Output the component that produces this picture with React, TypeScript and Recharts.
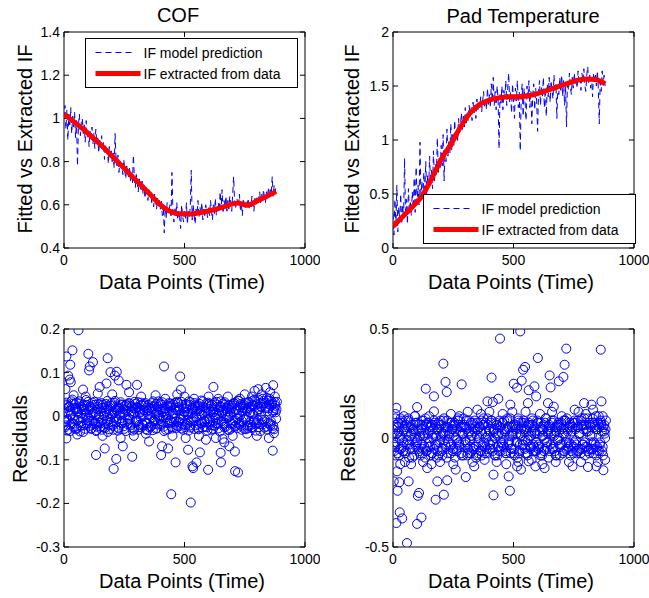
import React from 'react';
import {
    ComposedChart,
    ScatterChart,
    Line,
    Scatter,
    XAxis,
    YAxis,
    ReferenceArea,
    ReferenceLine,
} from 'recharts';

// fitted IF (blue dashed), one value every 4 data points, 0..880
const cofFitted = [
    1.0, 1.06, 0.95, 1.04, 0.9, 1.02, 0.97, 1.05, 0.93, 1.01,
    0.96, 1.03, 0.91, 0.99, 0.78, 0.97, 1.02, 0.92, 0.98, 1.0,
    0.93, 0.97, 0.89, 0.99, 0.91, 0.95, 0.87, 0.94, 0.9, 0.96,
    0.88, 0.93, 0.86, 0.95, 0.89, 0.91, 0.84, 0.9, 0.86, 0.92,
    0.85, 0.89, 0.81, 0.88, 0.84, 0.86, 0.79, 0.87, 0.82, 0.85,
    0.8, 0.84, 0.77, 0.93, 0.81, 0.78, 0.83, 0.75, 0.8, 0.77,
    0.79, 0.74, 0.81, 0.76, 0.72, 0.78, 0.75, 0.73, 0.77, 0.71,
    0.74, 0.7, 0.83, 0.72, 0.68, 0.74, 0.7, 0.66, 0.72, 0.69,
    0.67, 0.71, 0.65, 0.69, 0.63, 0.68, 0.66, 0.62, 0.67, 0.64,
    0.66, 0.61, 0.64, 0.59, 0.65, 0.62, 0.58, 0.63, 0.6, 0.62,
    0.58, 0.62, 0.55, 0.6, 0.47, 0.59, 0.54, 0.61, 0.56, 0.58,
    0.6, 0.54, 0.75, 0.57, 0.52, 0.59, 0.55, 0.61, 0.53, 0.57,
    0.54, 0.49, 0.6, 0.55, 0.52, 0.58, 0.53, 0.61, 0.51, 0.57,
    0.54, 0.59, 0.76, 0.53, 0.6, 0.55, 0.51, 0.58, 0.56, 0.62,
    0.54, 0.59, 0.56, 0.61, 0.53, 0.58, 0.55, 0.6, 0.57, 0.54,
    0.59, 0.55, 0.62, 0.57, 0.53, 0.6, 0.56, 0.63, 0.55, 0.59,
    0.61, 0.57, 0.66, 0.58, 0.67, 0.56, 0.62, 0.59, 0.64, 0.57,
    0.62, 0.58, 0.64, 0.6, 0.57, 0.65, 0.73, 0.61, 0.58, 0.63,
    0.62, 0.59, 0.65, 0.57, 0.61, 0.55, 0.63, 0.6, 0.58, 0.62,
    0.6, 0.63, 0.58, 0.62, 0.59, 0.64, 0.61, 0.57, 0.63, 0.6,
    0.64, 0.6, 0.63, 0.66, 0.61, 0.65, 0.62, 0.67, 0.63, 0.61,
    0.66, 0.63, 0.68, 0.64, 0.67, 0.65, 0.73, 0.64, 0.69, 0.66,
    0.69,
];

const padFitted = [
    0.32, 0.12, 0.45, 0.2, 0.58, 0.15, 0.38, 0.25, 0.5, 0.22,
    0.4, 0.28, 0.83, 0.3, 0.45, 0.22, 0.55, 0.35, 0.42, 0.3,
    0.52, 0.36, 0.65, 0.33, 0.75, 0.42, 0.58, 0.4, 0.98, 0.45,
    0.62, 0.44, 0.7, 0.5, 0.8, 0.48, 0.68, 0.56, 0.85, 0.58,
    0.72, 0.55, 0.9, 0.62, 0.78, 0.68, 1.02, 0.7, 0.85, 0.74,
    0.95, 0.76, 1.05, 0.62, 0.9, 0.8, 1.1, 0.85, 1.0, 0.88,
    1.15, 0.9, 1.05, 0.95, 1.18, 1.0, 1.08, 0.98, 1.2, 1.05,
    1.14, 1.25, 1.08, 1.22, 1.12, 1.3, 1.15, 1.24, 1.18, 1.32,
    1.22, 1.3, 1.18, 1.35, 1.25, 1.32, 1.2, 1.38, 1.28, 1.34,
    1.3, 1.4, 1.26, 1.36, 1.45, 1.3, 1.38, 1.28, 1.48, 1.33,
    1.42, 1.3, 1.52, 1.36, 1.58, 1.32, 1.45, 1.28, 1.5, 1.38,
    0.92, 1.42, 1.34, 1.5, 1.28, 1.46, 1.38, 1.55, 1.32, 1.48,
    1.62, 1.35, 1.45, 1.25, 1.52, 1.38, 1.2, 1.48, 1.36, 1.55,
    1.3, 1.45, 0.9, 1.4, 1.52, 1.22, 1.48, 1.35, 1.18, 1.5,
    1.38, 1.55, 1.3, 1.46, 1.15, 1.42, 1.52, 1.28, 1.48, 1.36,
    1.08, 1.45, 1.55, 1.32, 1.5, 1.4, 1.58, 1.3, 1.48, 1.22,
    1.52, 1.4, 1.58, 1.35, 1.55, 1.45, 1.38, 1.6, 1.44, 1.52,
    1.2, 1.5, 1.42, 1.58, 1.46, 1.6, 1.4, 1.55, 1.32, 1.5,
    1.12, 1.55, 1.46, 1.62, 1.5, 1.42, 1.58, 1.48, 1.62, 1.52,
    1.58, 1.48, 1.64, 1.52, 1.56, 1.46, 1.62, 1.54, 1.66, 1.5,
    1.45, 1.6, 1.68, 1.52, 1.62, 1.48, 1.58, 1.4, 1.62, 1.54,
    1.6, 1.5, 1.64, 1.48, 1.15, 1.58, 1.45, 1.64, 1.52, 1.6,
    1.5,
];

// IF extracted from data (red), one value every 40 data points
const cofExtracted = [
    1.02, 0.985, 0.95, 0.91, 0.87, 0.825, 0.78, 0.735, 0.69, 0.645, 0.6, 0.57,
    0.558, 0.557, 0.563, 0.572, 0.582, 0.598, 0.608, 0.598, 0.617, 0.638, 0.662,
];
const padExtracted = [
    0.2, 0.29, 0.38, 0.48, 0.64, 0.82, 0.96, 1.12, 1.25, 1.33, 1.37, 1.39,
    1.4, 1.4, 1.41, 1.43, 1.46, 1.49, 1.52, 1.55, 1.565, 1.56, 1.52,
];

// residuals in the dense band, every 5 data points; bands B and C sit between the A points
const cofResidualBandA = [
    0.018, -0.025, 0.031, -0.008, 0.022, -0.034, 0.005, 0.038, -0.017, 0.027,
    -0.03, 0.011, -0.004, 0.029, -0.022, 0.015, -0.036, 0.024, 0.002, -0.019,
    0.033, -0.011, 0.02, -0.028, 0.007, 0.026, -0.015, -0.032, 0.016, 0.001,
    -0.024, 0.03, -0.009, 0.019, -0.027, 0.012, 0.035, -0.02, 0.004, -0.013,
    0.025, -0.031, 0.009, 0.021, -0.006, -0.026, 0.017, 0.032, -0.016, 0.006,
    -0.029, 0.014, 0.027, -0.01, 0.003, -0.021, 0.023, -0.033, 0.01, 0.028,
    -0.014, 0.019, -0.025, 0.008, 0.031, -0.018, 0.0, 0.024, -0.03, 0.013,
    0.026, -0.007, -0.023, 0.017, 0.034, -0.012, 0.005, -0.027, 0.021, -0.003,
    0.029, -0.02, 0.011, -0.034, 0.018, 0.002, -0.015, 0.03, -0.009, 0.023,
    -0.028, 0.007, 0.02, -0.012, 0.033, -0.024, 0.014, -0.005, 0.026, -0.031,
    0.01, 0.028, -0.017, 0.004, -0.022, 0.032, -0.008, 0.016, -0.029, 0.021,
    -0.002, 0.025, -0.019, 0.012, 0.036, -0.026, 0.006, -0.013, 0.029, -0.033,
    0.017, -0.006, 0.023, -0.021, 0.009, 0.031, -0.016, 0.002, -0.028, 0.02,
    0.034, -0.011, 0.013, -0.025, 0.027, -0.004, 0.019, -0.032, 0.008, 0.024,
    -0.018, 0.03, -0.01, 0.015, -0.027, 0.035, 0.001, -0.022, 0.026, -0.007,
    0.018, -0.03, 0.012, 0.033, -0.014, 0.022, -0.025, 0.005, 0.038, -0.019,
    0.027, -0.009, 0.016, -0.034, 0.021, 0.04, -0.012, 0.03, -0.024, 0.011,
    0.036, -0.017, 0.024, -0.028, 0.014, 0.032, -0.006,
];
const cofResidualBandB = [
    -0.012, 0.027, -0.033, 0.009, 0.021, -0.019, 0.034, -0.004, -0.026, 0.015,
    0.031, -0.009, 0.018, -0.035, 0.006, 0.025, -0.021, 0.012, 0.037, -0.016,
    -0.003, 0.022, -0.029, 0.017, -0.011, 0.033, 0.004, -0.024, 0.028, -0.014,
    0.011, -0.031, 0.026, 0.001, -0.018, 0.023, -0.036, 0.014, -0.007, 0.03,
    -0.022, 0.008, 0.035, -0.013, 0.019, -0.028, 0.003, 0.027, -0.01, 0.016,
    0.024, -0.034, 0.012, -0.005, 0.029, -0.017, 0.021, 0.006, -0.03, 0.018,
    -0.009, 0.032, -0.02, 0.013, -0.026, 0.004, 0.028, -0.014, 0.019, -0.032,
    0.015, 0.001, -0.023, 0.03, -0.011, 0.022, -0.029, 0.01, 0.034, -0.006,
    -0.018, 0.026, -0.002, 0.017, -0.031, 0.008, 0.023, -0.015, 0.029, -0.024,
    0.006, -0.013, 0.031, -0.027, 0.014, 0.02, -0.008, 0.033, -0.019, 0.002,
    -0.025, 0.018, 0.009, -0.033, 0.026, -0.012, 0.015, -0.004, 0.03, -0.021,
    0.012, -0.028, 0.022, 0.005, -0.016, 0.034, -0.01, 0.019, -0.025, 0.008,
    0.028, -0.014, -0.031, 0.016, 0.003, -0.022, 0.027, -0.007, 0.013, -0.035,
    0.021, 0.007, -0.017, 0.032, -0.024, 0.011, -0.003, 0.025, -0.029, 0.018,
    -0.01, 0.029, -0.022, 0.005, 0.036, -0.015, 0.02, -0.031, 0.012, 0.026,
    -0.006, 0.017, -0.027, 0.031, 0.009, -0.02, 0.035, -0.013, 0.024, -0.033,
    0.014, 0.038, -0.018, 0.022, -0.008, 0.029, -0.026, 0.019, 0.042, -0.015,
    0.027, -0.021, 0.033, 0.01, -0.03, 0.024, 0.016,
];
const cofResidualBandC = [
    0.006, -0.021, 0.025, -0.031, 0.013, 0.002, -0.016, 0.029, -0.008, 0.019,
    -0.027, 0.008, 0.034, -0.013, 0.021, -0.005, 0.016, -0.029, 0.026, -0.01,
    0.014, -0.022, 0.003, 0.031, -0.018, 0.009, -0.034, 0.022, -0.001, 0.027,
    -0.015, 0.019, -0.026, 0.006, 0.028, -0.011, 0.017, -0.03, 0.024, 0.003,
    -0.019, 0.031, -0.004, 0.013, -0.033, 0.02, 0.008, -0.014, 0.026, -0.023,
    0.002, 0.025, -0.018, 0.03, -0.007, 0.011, -0.027, 0.018, 0.033, -0.012,
    0.021, -0.031, 0.009, -0.003, 0.026, -0.021, 0.014, 0.03, -0.016, 0.005,
    -0.025, 0.019, 0.01, -0.032, 0.023, -0.008, 0.028, -0.019, 0.003, 0.016,
    -0.011, 0.032, -0.024, 0.012, -0.002, 0.025, -0.03, 0.009, 0.02, -0.015,
    0.027, -0.005, 0.015, -0.022, 0.03, -0.013, 0.004, -0.028, 0.018, 0.011,
    -0.02, 0.023, -0.009, 0.034, -0.026, 0.007, 0.019, -0.012, 0.025, -0.003,
    0.016, -0.03, 0.028, -0.015, 0.003, 0.021, -0.024, 0.011, -0.007, 0.031,
    -0.019, 0.01, 0.026, -0.029, 0.015, -0.004, 0.033, -0.017, 0.006, 0.023,
    -0.012, 0.029, -0.02, 0.004, 0.018, -0.031, 0.024, 0.001, -0.016, 0.027,
    0.009, -0.024, 0.032, -0.006, 0.014, -0.019, 0.028, -0.011, 0.021, -0.029,
    0.03, -0.002, -0.022, 0.019, 0.008, -0.027, 0.025, -0.01, 0.034, -0.016,
    0.011, -0.025, 0.029, 0.004, -0.019, 0.035, -0.008, 0.022, -0.031, 0.018,
    0.04, -0.012, 0.028, -0.022, 0.019, 0.009, 0.033,
];
const padResidualBandA = [
    0.04, -0.06, 0.09, -0.02, 0.05, -0.08, 0.01, 0.07, -0.04, 0.03,
    -0.07, 0.06, -0.01, 0.08, -0.05, 0.02, -0.09, 0.04, 0.0, -0.03,
    0.07, -0.05, 0.03, -0.08, 0.06, 0.01, -0.04, 0.09, -0.06, 0.02,
    -0.02, 0.05, -0.07, 0.04, 0.08, -0.03, 0.01, -0.06, 0.07, -0.01,
    0.06, -0.08, 0.02, 0.05, -0.04, 0.08, -0.02, 0.03, -0.07, 0.04,
    -0.05, 0.07, 0.0, -0.06, 0.09, -0.03, 0.05, -0.08, 0.02, 0.06,
    -0.01, 0.04, -0.07, 0.08, -0.04, 0.01, 0.06, -0.05, 0.03, -0.09,
    0.07, -0.02, 0.05, -0.06, 0.02, 0.09, -0.04, 0.0, -0.07, 0.06,
    0.03, -0.05, 0.08, -0.03, 0.04, -0.08, 0.06, 0.01, -0.06, 0.05,
    -0.02, 0.07, -0.04, 0.03, -0.07, 0.09, -0.01, 0.05, -0.05, 0.02,
    0.06, -0.08, 0.04, -0.02, 0.08, -0.06, 0.01, 0.07, -0.03, 0.04,
    -0.07, 0.05, -0.01, 0.06, -0.05, 0.03, 0.08, -0.04, 0.02, -0.06,
    0.07, -0.03, 0.05, -0.07, 0.01, 0.06, -0.05, 0.09, -0.02, 0.04,
    -0.06, 0.03, 0.07, -0.04, 0.02, -0.08, 0.05, -0.01, 0.06, -0.03,
    0.04, -0.07, 0.02, 0.08, -0.05, 0.03, -0.02, 0.06, -0.06, 0.05,
    -0.04, 0.07, -0.03, 0.05, -0.06, 0.02, 0.08, -0.05, 0.04, -0.02,
    0.06, -0.04, 0.03, -0.07, 0.05, 0.01, -0.05, 0.07, -0.03, 0.04,
    -0.06, 0.05, -0.02, 0.06, -0.04, 0.03, 0.0,
];
const padResidualBandB = [
    -0.03, 0.05, -0.08, 0.02, 0.07, -0.05, 0.09, -0.01, -0.06, 0.04,
    0.08, -0.03, 0.05, -0.09, 0.01, 0.06, -0.05, 0.03, 0.1, -0.04,
    -0.01, 0.06, -0.07, 0.04, -0.03, 0.08, 0.01, -0.06, 0.07, -0.04,
    0.03, -0.08, 0.06, 0.0, -0.05, 0.06, -0.09, 0.04, -0.02, 0.08,
    -0.06, 0.02, 0.09, -0.03, 0.05, -0.07, 0.01, 0.07, -0.03, 0.04,
    0.06, -0.09, 0.03, -0.01, 0.08, -0.04, 0.05, 0.02, -0.08, 0.05,
    -0.02, 0.08, -0.05, 0.03, -0.07, 0.01, 0.07, -0.04, 0.05, -0.08,
    0.04, 0.0, -0.06, 0.08, -0.03, 0.06, -0.07, 0.03, 0.09, -0.02,
    -0.05, 0.07, -0.01, 0.04, -0.08, 0.02, 0.06, -0.04, 0.08, -0.06,
    0.02, -0.03, 0.08, -0.07, 0.04, 0.05, -0.02, 0.09, -0.05, 0.01,
    -0.07, 0.05, 0.02, -0.09, 0.07, -0.03, 0.04, -0.01, 0.08, -0.05,
    0.03, -0.07, 0.06, 0.01, -0.04, 0.09, -0.03, 0.05, -0.06, 0.02,
    0.07, -0.04, -0.08, 0.04, 0.01, -0.06, 0.07, -0.02, 0.03, -0.09,
    0.05, 0.02, -0.05, 0.08, -0.06, 0.03, -0.01, 0.07, -0.08, 0.05,
    -0.03, 0.08, -0.06, 0.01, 0.09, -0.04, 0.05, -0.08, 0.03, 0.07,
    -0.02, 0.04, -0.07, 0.08, 0.02, -0.05, 0.09, -0.03, 0.06, -0.08,
    0.04, 0.09, -0.05, 0.06, -0.02, 0.07, -0.07, 0.05, 0.1, -0.04,
    0.07, -0.06, 0.08, 0.03, -0.08, 0.06, 0.04,
];
const padResidualBandC = [
    0.02, -0.04, 0.06, -0.07, 0.03, 0.0, -0.05, 0.08, -0.02, 0.05,
    -0.06, 0.03, 0.09, -0.03, 0.05, -0.01, 0.04, -0.08, 0.07, -0.02,
    0.04, -0.06, 0.01, 0.08, -0.05, 0.02, -0.09, 0.06, 0.0, 0.07,
    -0.04, 0.05, -0.07, 0.02, 0.07, -0.03, 0.04, -0.08, 0.06, 0.01,
    -0.05, 0.08, -0.01, 0.03, -0.09, 0.05, 0.02, -0.04, 0.07, -0.06,
    0.01, 0.06, -0.05, 0.08, -0.02, 0.03, -0.07, 0.05, 0.09, -0.03,
    0.05, -0.08, 0.02, -0.01, 0.07, -0.06, 0.04, 0.08, -0.04, 0.01,
    -0.07, 0.05, 0.03, -0.08, 0.06, -0.02, 0.07, -0.05, 0.01, 0.04,
    -0.03, 0.08, -0.06, 0.03, 0.0, 0.07, -0.08, 0.02, 0.05, -0.04,
    0.07, -0.01, 0.04, -0.06, 0.08, -0.03, 0.01, -0.07, 0.05, 0.03,
    -0.05, 0.06, -0.02, 0.09, -0.07, 0.02, 0.05, -0.03, 0.07, -0.01,
    0.04, -0.08, 0.07, -0.04, 0.01, 0.06, -0.06, 0.03, -0.02, 0.08,
    -0.05, 0.03, 0.07, -0.08, 0.04, -0.01, 0.09, -0.04, 0.02, 0.06,
    -0.03, 0.08, -0.05, 0.01, 0.05, -0.08, 0.06, 0.0, -0.04, 0.07,
    0.02, -0.06, 0.08, -0.02, 0.04, -0.05, 0.07, -0.03, 0.05, -0.07,
    0.08, -0.01, -0.06, 0.05, 0.02, -0.07, 0.06, -0.03, 0.09, -0.04,
    0.03, -0.06, 0.07, 0.01, -0.05, 0.09, -0.02, 0.06, -0.08, 0.04,
    0.1, -0.03, 0.07, -0.06, 0.05, 0.02, 0.08,
];

// residuals outside the band: [data point, residual]
const cofResidualOutliers: [number, number][] = [
    [6, 0.062], [10, 0.137], [10, -0.051], [17, 0.093], [24, 0.084], [26, 0.118],
    [28, 0.078], [35, 0.151], [60, 0.197], [79, 0.061], [101, 0.143], [104, 0.105],
    [107, 0.114], [120, 0.124], [133, -0.089], [148, 0.067], [169, -0.074], [176, 0.075],
    [181, 0.133], [193, 0.101], [206, -0.121], [211, 0.093], [217, -0.098], [219, 0.102],
    [227, 0.082], [244, -0.069], [259, 0.072], [283, -0.093], [303, 0.072], [353, -0.058],
    [403, -0.089], [407, -0.069], [415, 0.114], [432, -0.074], [445, -0.179], [463, -0.106],
    [482, 0.091], [485, 0.061], [515, -0.077], [526, -0.198], [533, -0.115], [536, -0.119],
    [550, -0.106], [564, -0.083], [589, -0.054], [598, -0.123], [620, 0.067], [650, -0.084],
    [651, -0.106], [658, -0.052], [686, -0.069], [709, -0.081], [710, -0.126], [722, -0.129],
    [791, 0.058], [806, 0.062], [837, 0.065], [866, -0.079], [868, 0.071], [871, -0.039],
    [40, 0.048], [55, -0.042], [90, 0.045], [140, 0.052], [160, -0.045], [200, 0.05],
    [235, -0.05], [270, 0.055], [290, -0.045], [320, 0.045], [340, -0.04], [380, 0.048],
    [420, 0.04], [450, -0.045], [470, 0.05], [500, 0.045], [505, -0.05], [540, 0.04],
    [560, -0.045], [600, 0.045], [630, -0.05], [640, 0.04], [665, -0.06], [680, 0.045],
    [700, -0.045], [730, 0.04], [750, 0.05], [760, -0.04], [780, 0.045], [800, -0.045],
    [820, 0.05], [850, -0.05], [855, 0.055], [875, 0.045],
];
const padResidualOutliers: [number, number][] = [
    [3, -0.199], [14, 0.138], [14, -0.39], [17, -0.153], [19, -0.242], [26, -0.203],
    [28, -0.341], [38, -0.369], [58, -0.482], [65, -0.199], [100, 0.142], [100, -0.394],
    [103, -0.265], [108, -0.252], [118, -0.365], [136, 0.226], [142, -0.138], [170, 0.191],
    [170, 0.122], [177, -0.283], [184, -0.199], [209, 0.341], [211, -0.26], [218, 0.257],
    [223, 0.211], [225, -0.194], [260, -0.145], [285, 0.246], [302, -0.179], [337, -0.13],
    [350, 0.13], [392, 0.168], [409, 0.277], [414, 0.165], [417, -0.263], [417, -0.168],
    [437, 0.18], [444, 0.456], [480, -0.176], [485, -0.242], [487, 0.153], [501, 0.249],
    [515, 0.231], [515, -0.13], [528, 0.489], [531, -0.145], [534, 0.263], [540, 0.313],
    [548, 0.326], [560, 0.16], [563, 0.219], [563, -0.107], [587, 0.237], [591, -0.13],
    [594, 0.191], [601, 0.367], [629, -0.138], [643, 0.16], [650, 0.287], [654, 0.232],
    [667, 0.144], [688, 0.26], [707, 0.28], [712, 0.336], [719, 0.41], [745, -0.13],
    [754, 0.13], [793, 0.16], [809, -0.133], [824, 0.153], [844, -0.13], [862, 0.405],
    [865, 0.168], [873, -0.148],
    [10, 0.11], [30, -0.12], [45, 0.1], [50, -0.11], [75, -0.12], [90, 0.1],
    [125, -0.11], [150, 0.1], [160, -0.12], [195, -0.11], [240, 0.11], [250, -0.12],
    [275, 0.1], [310, 0.12], [330, -0.11], [365, 0.11], [380, -0.1], [400, 0.12],
    [430, -0.11], [455, 0.11], [470, -0.12], [495, 0.12], [520, -0.11], [550, 0.12],
    [575, -0.1], [610, 0.11], [620, -0.12], [660, 0.12], [675, -0.11], [700, 0.1],
    [730, -0.11], [770, 0.12], [780, -0.11], [800, 0.11], [830, 0.13], [850, -0.11],
    [870, 0.1], [880, -0.1],
];

const xTicks = [0, 500, 1000];
const cofTicks = [0.4, 0.6, 0.8, 1, 1.2, 1.4];
const padTicks = [0, 0.5, 1, 1.5, 2];
const cofResidualTicks = [-0.3, -0.2, -0.1, 0, 0.1, 0.2];
const padResidualTicks = [-0.5, 0, 0.5];

const FIT_STEP = 4;
const EXTRACT_STEP = 40;
const BAND_STEP = 5;

type Row = { t: number; v: number };

const fitRows = (vals: number[]) => vals.map((v, i) => ({ t: i * FIT_STEP, v }));
const extractRows = (vals: number[]) => vals.map((v, i) => ({ t: i * EXTRACT_STEP, v }));
const bandRows = (bands: number[][]) =>
    bands.flatMap((band, k) => band.map((v, i) => ({ t: i * BAND_STEP + (k * BAND_STEP) / bands.length, v })));
const outlierRows = (pairs: [number, number][]) => pairs.map(([t, v]) => ({ t, v }));

const FONT = 'Liberation Sans, Arial, Helvetica, sans-serif';
const BLUE = '#0000ff';
const RED = '#ff0000';
const tickStyle = { fill: '#000', fontSize: 14, fontFamily: FONT };

// matlab style box with ticks pointing inward on all four sides
function boxAndTicks(yTicks: number[], yDom: [number, number]) {
    const dx = 1000 * 0.021;
    const dy = (yDom[1] - yDom[0]) * 0.023;
    const out = [
        <ReferenceArea key="box" x1={0} x2={1000} y1={yDom[0]} y2={yDom[1]} fill="none" stroke="#000" strokeWidth={1} fillOpacity={0} />,
    ];
    yTicks.forEach((v) => {
        out.push(<ReferenceLine key={'yl' + v} segment={[{ x: 0, y: v }, { x: dx, y: v }]} stroke="#000" />);
        out.push(<ReferenceLine key={'yr' + v} segment={[{ x: 1000 - dx, y: v }, { x: 1000, y: v }]} stroke="#000" />);
    });
    xTicks.forEach((v) => {
        out.push(<ReferenceLine key={'xb' + v} segment={[{ x: v, y: yDom[0] }, { x: v, y: yDom[0] + dy }]} stroke="#000" />);
        out.push(<ReferenceLine key={'xt' + v} segment={[{ x: v, y: yDom[1] - dy }, { x: v, y: yDom[1] }]} stroke="#000" />);
    });
    return out;
}

interface FitPanelProps {
    left: number;
    width: number;
    yWidth: number;
    fit: Row[];
    extracted: Row[];
    yDom: [number, number];
    yTicks: number[];
}

const FitPanel = ({ left, width, yWidth, fit, extracted, yDom, yTicks }: FitPanelProps) => (
    <div style={{ position: 'absolute', left, top: 0 }}>
        <ComposedChart width={width} height={300} margin={{ top: 32, right: width - yWidth - 241, bottom: 0, left: 0 }}>
            <XAxis type="number" dataKey="t" domain={[0, 1000]} ticks={xTicks} interval={0} tickLine={false} axisLine={false} tickSize={0} tickMargin={7} height={52} tick={tickStyle} allowDataOverflow />
            <YAxis type="number" domain={yDom} ticks={yTicks} interval={0} tickLine={false} axisLine={false} tickSize={0} tickMargin={4} width={yWidth} tick={tickStyle} allowDataOverflow />
            {boxAndTicks(yTicks, yDom)}
            <Line data={fit} dataKey="v" type="linear" stroke={BLUE} strokeWidth={1} strokeDasharray="6 4" dot={false} isAnimationActive={false} />
            <Line data={extracted} dataKey="v" type="monotone" stroke={RED} strokeWidth={5} dot={false} isAnimationActive={false} />
        </ComposedChart>
    </div>
);

interface ResidualPanelProps {
    left: number;
    width: number;
    yWidth: number;
    band: Row[];
    outliers: Row[];
    yDom: [number, number];
    yTicks: number[];
}

const ResidualPanel = ({ left, width, yWidth, band, outliers, yDom, yTicks }: ResidualPanelProps) => (
    <div style={{ position: 'absolute', left, top: 300 }}>
        <ScatterChart width={width} height={298} margin={{ top: 29, right: width - yWidth - 241, bottom: 0, left: 0 }}>
            <XAxis type="number" dataKey="t" domain={[0, 1000]} ticks={xTicks} interval={0} tickLine={false} axisLine={false} tickSize={0} tickMargin={7} height={51} tick={tickStyle} allowDataOverflow />
            <YAxis type="number" dataKey="v" domain={yDom} ticks={yTicks} interval={0} tickLine={false} axisLine={false} tickSize={0} tickMargin={4} width={yWidth} tick={tickStyle} allowDataOverflow />
            {boxAndTicks(yTicks, yDom)}
            <Scatter data={band} fill="none" stroke={BLUE} strokeWidth={1} isAnimationActive={false} />
            <Scatter data={outliers} fill="none" stroke={BLUE} strokeWidth={1} isAnimationActive={false} />
        </ScatterChart>
    </div>
);

const LegendBox = ({ x, y }: { x: number; y: number }) => (
    <g>
        <rect x={x} y={y} width={212} height={49} fill="#fff" stroke="#000" strokeWidth={1} />
        <line x1={x + 10} x2={x + 48} y1={y + 14} y2={y + 14} stroke={BLUE} strokeWidth={1} strokeDasharray="6 4" />
        <text x={x + 58} y={y + 19} fontSize={14} fontFamily={FONT}>IF model prediction</text>
        <line x1={x + 10} x2={x + 55} y1={y + 35} y2={y + 35} stroke={RED} strokeWidth={5} />
        <text x={x + 58} y={y + 40} fontSize={14} fontFamily={FONT}>IF extracted from data</text>
    </g>
);

const App = () => {
    return (
        <div style={{ position: 'absolute', left: 0, top: 0, width: 649, height: 598, background: '#fff' }}>
            <FitPanel left={0} width={320} yWidth={64} fit={fitRows(cofFitted)} extracted={extractRows(cofExtracted)} yDom={[0.4, 1.4]} yTicks={cofTicks} />
            <FitPanel left={320} width={329} yWidth={73} fit={fitRows(padFitted)} extracted={extractRows(padExtracted)} yDom={[0, 2]} yTicks={padTicks} />
            <ResidualPanel left={0} width={320} yWidth={64} band={bandRows([cofResidualBandA, cofResidualBandB, cofResidualBandC])} outliers={outlierRows(cofResidualOutliers)} yDom={[-0.3, 0.2]} yTicks={cofResidualTicks} />
            <ResidualPanel left={320} width={329} yWidth={73} band={bandRows([padResidualBandA, padResidualBandB, padResidualBandC])} outliers={outlierRows(padResidualOutliers)} yDom={[-0.5, 0.5]} yTicks={padResidualTicks} />
            <svg width={649} height={598} style={{ position: 'absolute', left: 0, top: 0, pointerEvents: 'none' }}>
                <g fontFamily={FONT} fontSize={20} fill="#000" textAnchor="middle">
                    <text x={178} y={22}>COF</text>
                    <text x={523} y={23}>Pad Temperature</text>
                    <text x={182} y={289}>Data Points (Time)</text>
                    <text x={511} y={289}>Data Points (Time)</text>
                    <text x={182} y={588}>Data Points (Time)</text>
                    <text x={511} y={588}>Data Points (Time)</text>
                    <text x={32} y={139} transform="rotate(-90 32 139)">Fitted vs Extracted IF</text>
                    <text x={359} y={139} transform="rotate(-90 359 139)">Fitted vs Extracted IF</text>
                    <text x={27} y={439} transform="rotate(-90 27 439)">Residuals</text>
                    <text x={355} y={438} transform="rotate(-90 355 438)">Residuals</text>
                </g>
                <LegendBox x={85.5} y={38.5} />
                <LegendBox x={423.5} y={194.5} />
            </svg>
        </div>
    );
};

export default App;
